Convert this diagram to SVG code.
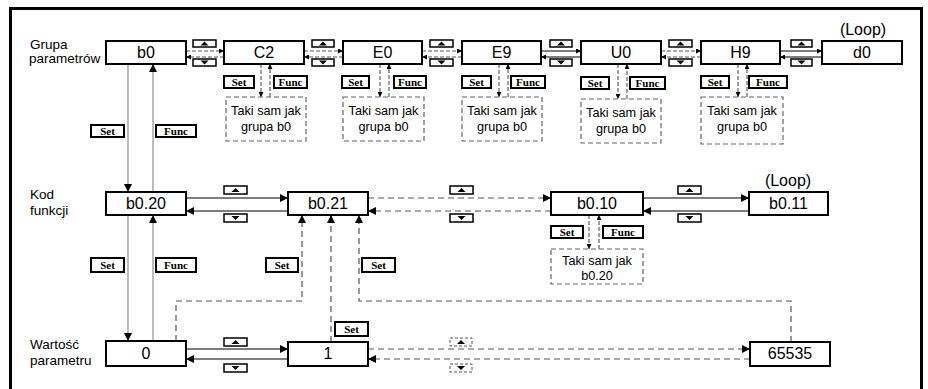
<svg xmlns="http://www.w3.org/2000/svg" width="928" height="389" viewBox="0 0 928 389">
<defs>
<style>
.n{fill:#fff;stroke:#000;stroke-width:2}
.t{font-family:"Liberation Sans",Arial,sans-serif;font-size:16px;text-anchor:middle;fill:#000}
.s{font-family:"Liberation Sans",Arial,sans-serif;font-size:13.5px;fill:#000}
.tk{font-family:"Liberation Sans",Arial,sans-serif;font-size:12.7px;text-anchor:middle;fill:#000}
.tb{fill:#fff;stroke:#666;stroke-width:1.2;stroke-dasharray:5 3}
.k{fill:#fff;stroke:#000;stroke-width:2}
.kt{font-family:"Liberation Serif","Times New Roman",serif;font-size:11px;font-weight:bold;text-anchor:middle;fill:#000}
.b{fill:#fff;stroke:#000;stroke-width:1.5}
.bd{fill:#fff;stroke:#555;stroke-width:1;stroke-dasharray:3 2}
.tri{fill:#000}
.sl{fill:none;stroke:#000;stroke-width:1.2}
.dl{fill:none;stroke:#555;stroke-width:1.2;stroke-dasharray:6 4}
.dls{fill:none;stroke:#555;stroke-width:1.1;stroke-dasharray:4 2}
.gl{fill:none;stroke:#999;stroke-width:1.3}
</style>
<marker id="ah" viewBox="0 0 10 10" refX="10" refY="5" markerWidth="9" markerHeight="8" markerUnits="userSpaceOnUse" orient="auto"><path d="M0,0 L10,5 L0,10z" fill="#000"/></marker>
<marker id="as" viewBox="0 0 10 10" refX="10" refY="5" markerWidth="6" markerHeight="5" markerUnits="userSpaceOnUse" orient="auto"><path d="M0,0 L10,5 L0,10z" fill="#000"/></marker>
</defs>

<rect x="10.5" y="8.5" width="911" height="390" fill="none" stroke="#000" stroke-width="3"/>

<!-- side labels -->
<text class="s" x="30" y="49">Grupa</text>
<text class="s" x="29" y="63">parametrów</text>
<text class="s" x="30" y="199">Kod</text>
<text class="s" x="30" y="215">funkcji</text>
<text class="s" x="30" y="349">Wartość</text>
<text class="s" x="30" y="365">parametru</text>

<g id="connectors">
<!-- top row horizontal -->
<line class="dls" x1="186" y1="51" x2="224" y2="51" marker-end="url(#as)"/>
<line class="dls" x1="224" y1="57" x2="186" y2="57" marker-end="url(#as)"/>
<line class="dls" x1="304" y1="51" x2="343" y2="51" marker-end="url(#as)"/>
<line class="dls" x1="343" y1="57" x2="304" y2="57" marker-end="url(#as)"/>
<line class="dls" x1="422" y1="51" x2="462" y2="51" marker-end="url(#as)"/>
<line class="dls" x1="462" y1="57" x2="422" y2="57" marker-end="url(#as)"/>
<line class="sl" x1="541" y1="51" x2="581" y2="51" marker-end="url(#as)"/>
<line class="sl" x1="581" y1="57" x2="541" y2="57" marker-end="url(#as)"/>
<line class="dls" x1="661" y1="51" x2="701" y2="51" marker-end="url(#as)"/>
<line class="dls" x1="701" y1="57" x2="661" y2="57" marker-end="url(#as)"/>
<line class="sl" x1="780" y1="51" x2="822" y2="51" marker-end="url(#as)"/>
<line class="sl" x1="822" y1="57" x2="780" y2="57" marker-end="url(#as)"/>
<!-- top row set/func verticals -->
<line class="dls" x1="261" y1="64" x2="261" y2="97" marker-end="url(#as)"/>
<line class="dls" x1="270" y1="97" x2="270" y2="64" marker-end="url(#as)"/>
<line class="dls" x1="380" y1="64" x2="380" y2="97" marker-end="url(#as)"/>
<line class="dls" x1="389" y1="97" x2="389" y2="64" marker-end="url(#as)"/>
<line class="dls" x1="499" y1="64" x2="499" y2="97" marker-end="url(#as)"/>
<line class="dls" x1="508" y1="97" x2="508" y2="64" marker-end="url(#as)"/>
<line class="dls" x1="618" y1="64" x2="618" y2="99" marker-end="url(#as)"/>
<line class="dls" x1="627" y1="99" x2="627" y2="64" marker-end="url(#as)"/>
<line class="dls" x1="738" y1="64" x2="738" y2="97" marker-end="url(#as)"/>
<line class="dls" x1="747" y1="97" x2="747" y2="64" marker-end="url(#as)"/>
<!-- b0 verticals -->
<line class="gl" x1="128" y1="64" x2="128" y2="192" marker-end="url(#ah)"/>
<line class="gl" x1="153" y1="192" x2="153" y2="64" marker-end="url(#ah)"/>
<line class="gl" x1="128" y1="215" x2="128" y2="341" marker-end="url(#ah)"/>
<line class="gl" x1="153" y1="341" x2="153" y2="215" marker-end="url(#ah)"/>
<!-- middle row -->
<line class="sl" x1="186" y1="198" x2="288" y2="198" marker-end="url(#ah)"/>
<line class="sl" x1="288" y1="211" x2="186" y2="211" marker-end="url(#ah)"/>
<line class="dl" x1="368" y1="198" x2="551" y2="198" marker-end="url(#ah)"/>
<line class="dl" x1="551" y1="211" x2="368" y2="211" marker-end="url(#ah)"/>
<line class="sl" x1="643" y1="198" x2="749" y2="198" marker-end="url(#ah)"/>
<line class="sl" x1="749" y1="211" x2="643" y2="211" marker-end="url(#ah)"/>
<line class="dls" x1="589" y1="215" x2="589" y2="249" marker-end="url(#as)"/>
<line class="dls" x1="599" y1="249" x2="599" y2="215" marker-end="url(#as)"/>
<!-- bottom to b0.21 -->
<path class="dl" d="M176,341 V301 H302 V215" marker-end="url(#ah)"/>
<path class="dl" d="M331,342 V215" marker-end="url(#ah)"/>
<path class="dl" d="M791,342 V301 H359 V215" marker-end="url(#ah)"/>
<!-- bottom row -->
<line class="sl" x1="186" y1="349" x2="288" y2="349" marker-end="url(#ah)"/>
<line class="sl" x1="288" y1="359" x2="186" y2="359" marker-end="url(#ah)"/>
<line class="dl" x1="368" y1="349" x2="750" y2="349" marker-end="url(#ah)"/>
<line class="dl" x1="750" y1="359" x2="368" y2="359" marker-end="url(#ah)"/>
</g>

<!-- up/down buttons -->
<g id="buttons">
<rect class="b" x="193" y="40" width="23" height="7"/><path class="tri" d="M200.5,45.5 L204.5,41.5 L208.5,45.5z"/>
<rect class="b" x="193" y="59" width="23" height="7"/><path class="tri" d="M200.5,60.5 L204.5,64.5 L208.5,60.5z"/>
<rect class="b" x="312" y="40" width="22" height="7"/><path class="tri" d="M319,45.5 L323,41.5 L327,45.5z"/>
<rect class="b" x="312" y="59" width="22" height="7"/><path class="tri" d="M319,60.5 L323,64.5 L327,60.5z"/>
<rect class="b" x="430" y="40" width="23" height="7"/><path class="tri" d="M437.5,45.5 L441.5,41.5 L445.5,45.5z"/>
<rect class="b" x="430" y="59" width="23" height="7"/><path class="tri" d="M437.5,60.5 L441.5,64.5 L445.5,60.5z"/>
<rect class="b" x="550" y="40" width="22" height="7"/><path class="tri" d="M557,45.5 L561,41.5 L565,45.5z"/>
<rect class="b" x="550" y="59" width="22" height="7"/><path class="tri" d="M557,60.5 L561,64.5 L565,60.5z"/>
<rect class="b" x="669" y="40" width="23" height="7"/><path class="tri" d="M676.5,45.5 L680.5,41.5 L684.5,45.5z"/>
<rect class="b" x="669" y="59" width="23" height="7"/><path class="tri" d="M676.5,60.5 L680.5,64.5 L684.5,60.5z"/>
<rect class="b" x="791" y="40" width="21" height="7"/><path class="tri" d="M797.5,45.5 L801.5,41.5 L805.5,45.5z"/>
<rect class="b" x="791" y="59" width="21" height="7"/><path class="tri" d="M797.5,60.5 L801.5,64.5 L805.5,60.5z"/>

<rect class="b" x="224" y="186" width="23" height="8"/><path class="tri" d="M231.5,192 L235.5,188 L239.5,192z"/>
<rect class="b" x="224" y="214" width="23" height="8"/><path class="tri" d="M231.5,216 L235.5,220 L239.5,216z"/>
<rect class="b" x="450" y="186" width="23" height="8"/><path class="tri" d="M457.5,192 L461.5,188 L465.5,192z"/>
<rect class="b" x="450" y="214" width="23" height="8"/><path class="tri" d="M457.5,216 L461.5,220 L465.5,216z"/>
<rect class="b" x="678" y="186" width="23" height="8"/><path class="tri" d="M685.5,192 L689.5,188 L693.5,192z"/>
<rect class="b" x="678" y="214" width="23" height="8"/><path class="tri" d="M685.5,216 L689.5,220 L693.5,216z"/>

<rect class="b" x="224" y="338" width="23" height="8"/><path class="tri" d="M231.5,344 L235.5,340 L239.5,344z"/>
<rect class="b" x="224" y="364" width="23" height="8"/><path class="tri" d="M231.5,366 L235.5,370 L239.5,366z"/>
<rect class="bd" x="450" y="338" width="22" height="8"/><path class="tri" d="M457,344 L461,340 L465,344z"/>
<rect class="bd" x="450" y="364" width="22" height="8"/><path class="tri" d="M457,366 L461,370 L465,366z"/>
</g>

<!-- Set / Func keys -->
<g id="keys">
<rect class="k" x="224" y="76" width="30" height="12"/><text class="kt" x="239" y="86">Set</text>
<rect class="k" x="274" y="76" width="33" height="12"/><text class="kt" x="290.5" y="86">Func</text>
<rect class="k" x="342" y="76" width="27" height="12"/><text class="kt" x="355.5" y="86">Set</text>
<rect class="k" x="394" y="76" width="32" height="12"/><text class="kt" x="410" y="86">Func</text>
<rect class="k" x="462" y="76" width="29" height="12"/><text class="kt" x="476.5" y="86">Set</text>
<rect class="k" x="511" y="76" width="34" height="12"/><text class="kt" x="528" y="86">Func</text>
<rect class="k" x="581" y="77" width="28" height="12"/><text class="kt" x="595" y="87">Set</text>
<rect class="k" x="630" y="77" width="35" height="12"/><text class="kt" x="647.5" y="87">Func</text>
<rect class="k" x="701" y="76" width="28" height="12"/><text class="kt" x="715" y="86">Set</text>
<rect class="k" x="749" y="76" width="38" height="12"/><text class="kt" x="768" y="86">Func</text>

<rect class="k" x="91" y="125" width="33" height="12"/><text class="kt" x="107.5" y="135">Set</text>
<rect class="k" x="156" y="125" width="40" height="12"/><text class="kt" x="176" y="135">Func</text>
<rect class="k" x="91" y="258" width="33" height="14"/><text class="kt" x="107.5" y="269">Set</text>
<rect class="k" x="156" y="258" width="40" height="14"/><text class="kt" x="176" y="269">Func</text>
<rect class="k" x="266" y="258" width="32" height="14"/><text class="kt" x="282" y="269">Set</text>
<rect class="k" x="362" y="258" width="33" height="14"/><text class="kt" x="378.5" y="269">Set</text>
<rect class="k" x="335" y="322" width="33" height="14"/><text class="kt" x="351.5" y="333">Set</text>
<rect class="k" x="551" y="226" width="32" height="12"/><text class="kt" x="567" y="236">Set</text>
<rect class="k" x="603" y="226" width="40" height="12"/><text class="kt" x="623" y="236">Func</text>
</g>

<!-- "same as" boxes -->
<g id="same-C2"><rect class="tb" x="226" y="97" width="80" height="44"/><text class="tk" x="266" y="115">Taki sam jak</text><text class="tk" x="266" y="131">grupa b0</text></g>
<g id="same-E0"><rect class="tb" x="343" y="97" width="81" height="44"/><text class="tk" x="383.5" y="115">Taki sam jak</text><text class="tk" x="383.5" y="131">grupa b0</text></g>
<g id="same-E9"><rect class="tb" x="462" y="97" width="80" height="44"/><text class="tk" x="502" y="115">Taki sam jak</text><text class="tk" x="502" y="131">grupa b0</text></g>
<g id="same-U0"><rect class="tb" x="581" y="99" width="80" height="44"/><text class="tk" x="621" y="117">Taki sam jak</text><text class="tk" x="621" y="133">grupa b0</text></g>
<g id="same-H9"><rect class="tb" x="701" y="97" width="82" height="47"/><text class="tk" x="742" y="115">Taki sam jak</text><text class="tk" x="742" y="131">grupa b0</text></g>
<g id="same-b010"><rect class="tb" x="551" y="249" width="92" height="35"/><text class="tk" x="597" y="265">Taki sam jak</text><text class="tk" x="597" y="280">b0.20</text></g>

<!-- nodes top row -->
<g id="b0"><rect class="n" x="106" y="41" width="80" height="23"/><text class="t" x="146" y="58">b0</text></g>
<g id="C2"><rect class="n" x="224" y="41" width="80" height="23"/><text class="t" x="264" y="58">C2</text></g>
<g id="E0"><rect class="n" x="343" y="41" width="79" height="23"/><text class="t" x="382.5" y="58">E0</text></g>
<g id="E9"><rect class="n" x="462" y="41" width="79" height="23"/><text class="t" x="501.5" y="58">E9</text></g>
<g id="U0"><rect class="n" x="581" y="41" width="80" height="23"/><text class="t" x="621" y="58">U0</text></g>
<g id="H9"><rect class="n" x="701" y="41" width="79" height="23"/><text class="t" x="740.5" y="58">H9</text></g>
<g id="d0"><rect class="n" x="822" y="41" width="80" height="23"/><text class="t" x="862" y="58">d0</text><text class="t" x="863" y="35">(Loop)</text></g>

<!-- middle row -->
<g id="b020"><rect class="n" x="106" y="192" width="80" height="23"/><text class="t" x="146" y="209">b0.20</text></g>
<g id="b021"><rect class="n" x="288" y="192" width="80" height="23"/><text class="t" x="328" y="209">b0.21</text></g>
<g id="b010"><rect class="n" x="551" y="192" width="92" height="23"/><text class="t" x="597" y="209">b0.10</text></g>
<g id="b011"><rect class="n" x="749" y="192" width="79" height="23"/><text class="t" x="788.5" y="209">b0.11</text><text class="t" x="788" y="186">(Loop)</text></g>

<!-- bottom row -->
<g id="v0"><rect class="n" x="106" y="341" width="80" height="25"/><text class="t" x="146" y="359">0</text></g>
<g id="v1"><rect class="n" x="288" y="342" width="80" height="24"/><text class="t" x="328" y="359">1</text></g>
<g id="v65535"><rect class="n" x="750" y="342" width="80" height="24"/><text class="t" x="790" y="359">65535</text></g>
</svg>
